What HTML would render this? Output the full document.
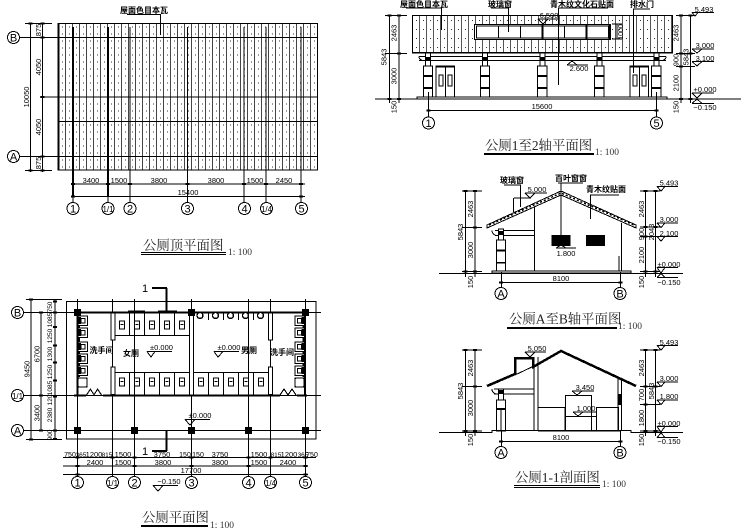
<!DOCTYPE html>
<html><head><meta charset="utf-8"><style>
html,body{margin:0;padding:0;background:#fff}
svg{display:block}
text{font-family:"Liberation Sans","Noto Sans CJK SC",sans-serif;fill:#000}
.d{font-size:7.5px;text-anchor:middle}
.n{font-size:8px;font-weight:bold;text-anchor:middle}
.c{font-size:11px;text-anchor:middle;font-family:"Liberation Sans",sans-serif}
.t{font-family:"Liberation Serif","Noto Serif CJK SC",serif;font-size:13.4px;fill:#222}
.s{font-family:"Liberation Serif",serif;font-size:9.5px;fill:#333}
.l{fill:none;stroke:#000;stroke-width:1}
.h{fill:none;stroke:#000;stroke-width:2}
.tk{fill:none;stroke:#000;stroke-width:2.4}
.f{fill:#000;stroke:none}
circle.o{fill:#fff;stroke:#000;stroke-width:1}
</style></head><body>
<svg width="749" height="530" viewBox="0 0 749 530" xmlns="http://www.w3.org/2000/svg" shape-rendering="crispEdges">
<defs>
<pattern id="p1" x="58" y="23.5" width="7" height="7" patternUnits="userSpaceOnUse">
<rect x="0" y="0" width="7" height="7" fill="#fff"/><rect x="0" y="0" width="1" height="7" fill="#444"/><rect x="4" y="3" width="1" height="1" fill="#333"/>
</pattern>
<pattern id="p2" x="412" y="16" width="7" height="9" patternUnits="userSpaceOnUse">
<rect x="0" y="0" width="7" height="9" fill="#fff"/><rect x="0" y="0" width="1" height="9" fill="#555"/><rect x="4" y="4" width="1" height="1" fill="#333"/>
</pattern>
<g id="stall"><rect x="-2.5" y="-4" width="5" height="8" fill="#fff" stroke="#000" stroke-width="1.4"/><rect x="-1.5" y="-1" width="3" height="1" fill="#000"/></g>
<g id="sink"><rect x="0" y="0" width="9.5" height="9.5" fill="#fff" stroke="#000"/><rect x="3" y="2.5" width="4" height="4.5" fill="#fff" stroke="#000"/><rect x="0" y="1" width="3" height="7" fill="#000"/></g>
<g id="column">
<rect x="-2.5" y="53" width="5" height="13" fill="#fff" stroke="#000"/>
<rect x="-2.5" y="57" width="5" height="4" fill="#000"/>
<rect x="-4.7" y="66" width="9.4" height="31" fill="#fff" stroke="#000"/>
<rect x="-4.7" y="75" width="9.4" height="2" fill="#000"/><rect x="-4.7" y="87" width="9.4" height="2" fill="#000"/>
</g>
<g id="door">
<rect x="0" y="66" width="18.5" height="31.5" fill="#fff" stroke="#000"/>
<rect x="0" y="66" width="18.5" height="1.5" fill="#000"/>
<path class="l" d="M9.5 66V97.5"/>
<rect x="3" y="75" width="4" height="11" fill="#fff" stroke="#000"/>
<rect x="12" y="75" width="4" height="11" fill="#fff" stroke="#000"/>
</g>
</defs>

<!-- ============ ROOF PLAN ============ -->
<rect x="58" y="23.5" width="259.5" height="146.5" fill="url(#p1)" stroke="#000"/>
<rect x="57.5" y="23.5" width="2" height="147" fill="#000"/>
<path class="l" d="M10 37.5H317M40 97H317M58 121.5H317M10 156.5H317"/>
<path class="l" d="M25 23.5H52M25 170.5H52M30.5 23V172M42.5 23V172"/>
<path class="tk" d="M28.5 23.5h4M40.500 23.500h4M40.500 37.500h4M40.500 97h4M40.500 156.500h4M40.500 170.500h4M28.500 170.500h4"/>
<path class="h" d="M73 27V197M108 27V197"/>
<path class="l" d="M130 27V202M187.500 27V202M244 27V202M266 27V202M301 27V202M73 197V202M108 197V202"/>
<path class="l" d="M73 184H305M73 196.500H305"/>
<path class="tk" d="M71 184h4M106 184h4M128 184h4M185.500 184h4M242 184h4M264 184h4M299 184h4M71 196.500h4M299 196.500h4"/>
<text class="d" x="91" y="183">3400</text><text class="d" x="119" y="183">1500</text><text class="d" x="159" y="183">3800</text><text class="d" x="216" y="183">3800</text><text class="d" x="255" y="183">1500</text><text class="d" x="284" y="183">2450</text>
<text class="d" x="188" y="195">15400</text>
<text class="d" transform="translate(41,30) rotate(-90)">875</text>
<text class="d" transform="translate(41,67) rotate(-90)">4050</text>
<text class="d" transform="translate(41,127) rotate(-90)">4050</text>
<text class="d" transform="translate(41,163) rotate(-90)">875</text>
<text class="d" transform="translate(29,97) rotate(-90)">10050</text>
<circle class="o" cx="13.500" cy="37.500" r="6"/><text class="c" x="13.500" y="41.500">B</text>
<circle class="o" cx="13.500" cy="156.500" r="6"/><text class="c" x="13.500" y="160.500">A</text>
<circle class="o" cx="73" cy="208.500" r="6"/><text class="c" x="73" y="212.500">1</text>
<circle class="o" cx="108" cy="208.500" r="6"/><text class="c" x="108" y="212" style="font-size:8px">1/1</text>
<circle class="o" cx="130" cy="208.500" r="6"/><text class="c" x="130" y="212.500">2</text>
<circle class="o" cx="187.500" cy="208.500" r="6"/><text class="c" x="187.500" y="212.500">3</text>
<circle class="o" cx="244.500" cy="208.500" r="6"/><text class="c" x="244.500" y="212.500">4</text>
<circle class="o" cx="266.500" cy="208.500" r="6"/><text class="c" x="266.500" y="212" style="font-size:8px">1/4</text>
<circle class="o" cx="301.500" cy="208.500" r="6"/><text class="c" x="301.500" y="212.500">5</text>
<text class="n" x="144" y="13">屋面色目本瓦</text>
<path class="l" d="M127 14.500H161M160.500 14V35"/>
<text class="t" x="143" y="250">公厕顶平面图</text>
<path class="l" d="M141 252.500H226M141 254.500H226"/>
<text class="s" x="228" y="255">1: 100</text>

<!-- ============ FLOOR PLAN ============ -->
<rect class="l" x="66.500" y="301.500" width="249.500" height="137.500"/>
<path class="l" d="M21 312.500H321M21 395.500H321M21 430.500H321"/>
<path class="l" d="M77.500 299V476M112.500 299V476M134.500 299V476M191.500 299V476M248.500 299V476M270.500 299V476M305.500 299V476"/>
<path class="l" d="M63 457.500H316M63 466H308M63 474.500H308"/>
<path class="l" d="M26 299.500H62M26 439.500H62M31 299V440M41 312V430M55 299V440M41 312.500H62M41 395.500H62"/>
<path class="tk" d="M53 301.500h4M53 312.500h4M53 327h4M53 345.500h4M53 362.500h4M53 380.500h4M53 396.500h4M53 430.500h4M53 439h4M39 312.500h4M39 395.500h4M39 430.500h4M29 299.500h4M29 439.500h4"/>
<path class="tk" d="M75.500 457.500h4M110.500 457.500h4M132.500 457.500h4M189.500 457.500h4M246.500 457.500h4M268.500 457.500h4M303.500 457.500h4M75.500 466h4M132.500 466h4M189.500 466h4M246.500 466h4M303.500 466h4M75.500 474.500h4M303.500 474.500h4"/>

<!-- walls -->
<rect x="76.500" y="311.500" width="229" height="2" fill="#000"/>
<rect x="128" y="310.500" width="17" height="3" fill="#000"/><rect x="158" y="310.500" width="19" height="3" fill="#000"/>
<path class="h" d="M77.500 312V396M305 312V396"/>
<path class="h" d="M74 395.500H86M103 395.500H280M297 395.500H307"/>
<rect x="189.500" y="312" width="4" height="83" fill="#fff" stroke="#000"/>
<rect x="111" y="313" width="4" height="27" fill="#fff" stroke="#000"/>
<rect x="111" y="367" width="4" height="27.500" fill="#fff" stroke="#000"/>
<rect x="268.500" y="313" width="4" height="27" fill="#fff" stroke="#000"/>
<rect x="268.500" y="367" width="4" height="27.500" fill="#fff" stroke="#000"/>
<!-- columns -->
<g class="f"><rect x="74" y="309" width="7" height="7"/><rect x="188" y="309" width="7" height="7"/><rect x="302" y="309" width="7" height="7"/>
<rect x="74" y="427" width="7" height="7"/><rect x="131" y="427" width="7" height="7"/><rect x="188" y="427" width="7" height="7"/><rect x="245" y="427" width="7" height="7"/><rect x="302" y="427" width="7" height="7"/></g>
<!-- female stalls -->
<path class="l" d="M115 335.500H189.500M129.500 313V335.500M144.500 313V335.500M159.500 313V335.500M174.500 313V335.500"/>
<path class="l" d="M115 372.500H189.500M129.500 372.500V395M144.500 372.500V395M159.500 372.500V395M174.500 372.500V395"/>
<use href="#stall" x="122" y="325"/><use href="#stall" x="137" y="325"/><use href="#stall" x="152" y="325"/><use href="#stall" x="167" y="325"/><use href="#stall" x="182" y="325"/>
<use href="#stall" x="122" y="382"/><use href="#stall" x="137" y="382"/><use href="#stall" x="152" y="382"/><use href="#stall" x="167" y="382"/><use href="#stall" x="182" y="382"/>
<!-- male stalls -->
<path class="l" d="M193.500 372.500H268.500M208.500 372.500V395M223.500 372.500V395M238.500 372.500V395M253.500 372.500V395"/>
<use href="#stall" x="201" y="382"/><use href="#stall" x="216" y="382"/><use href="#stall" x="231" y="382"/><use href="#stall" x="246" y="382"/><use href="#stall" x="261" y="382"/>
<path class="l" d="M208.500 313V320M223.500 313V320M238.500 313V320M253.500 313V320"/>
<g fill="#fff" stroke="#000" stroke-width="1.400"><circle cx="200" cy="315.500" r="3"/><circle cx="215.500" cy="315.500" r="3"/><circle cx="230.500" cy="315.500" r="3"/><circle cx="245.500" cy="315.500" r="3"/><circle cx="260.500" cy="315.500" r="3"/></g>
<!-- sinks -->
<rect x="77" y="314" width="3" height="63" fill="#000"/>
<use href="#sink" x="78" y="316"/><use href="#sink" x="78" y="328"/><use href="#sink" x="78" y="342"/><use href="#sink" x="78" y="354"/><use href="#sink" x="78" y="366"/>
<rect x="78" y="378" width="9" height="9" rx="1" fill="#fff" stroke="#000" stroke-width="1.400"/>
<rect x="302.500" y="314" width="3" height="63" fill="#000"/>
<g transform="translate(600,0) scale(-1,1)"><use href="#sink" x="295.500" y="316"/><use href="#sink" x="295.500" y="328"/><use href="#sink" x="295.500" y="342"/><use href="#sink" x="295.500" y="354"/><use href="#sink" x="295.500" y="366"/></g>
<rect x="295" y="378" width="9" height="9" rx="1" fill="#fff" stroke="#000" stroke-width="1.400"/>
<path class="l" d="M86.500 395L90.500 389L94 395L97.500 389L101.500 395"/>
<path class="l" d="M280 395L284 389L288 395L292 389L296 395"/>
<text class="n" x="101.500" y="353">洗手间</text><text class="n" x="131" y="356">女厕</text><text class="n" x="249" y="353">男厕</text><text class="n" x="282" y="355">洗手间</text>
<text class="d" x="161.500" y="350">±0.000</text><path class="l" d="M147 351.500H172M147 351.500L151 357L155 351.500"/>
<text class="d" x="229" y="350">±0.000</text><path class="l" d="M214 351.500H239M214 351.500L218 357L223 351.500"/>
<text class="d" x="200" y="418">±0.000</text><path class="l" d="M185 419.500H210M185 419.500L190 425L195 419.500"/>
<text class="d" x="169" y="484">−0.150</text><path class="l" d="M153 485.500H178M153 485.500L158 491L163 485.500"/>
<!-- section marks -->
<path class="h" d="M152 288H167M166.500 288V312M152 451H167M166.500 430V451"/>
<text x="145" y="292" style="font-size:11px;text-anchor:middle">1</text>
<text x="145" y="455" style="font-size:11px;text-anchor:middle">1</text>
<!-- dim text -->
<g style="font-size:7px">
<text class="d" style="font-size:7px" x="70" y="457">750</text><text class="d" style="font-size:6.500px" x="81" y="457">365</text><text class="d" x="94" y="457">1200</text><text class="d" style="font-size:6.500px" x="107" y="457">815</text><text class="d" x="123" y="457">1500</text><text class="d" x="162" y="457">3750</text><text class="d" style="font-size:7px" x="185" y="457">150</text><text class="d" style="font-size:7px" x="198" y="457">150</text><text class="d" x="220" y="457">3750</text><text class="d" x="259" y="457">1500</text><text class="d" style="font-size:6.500px" x="276" y="457">815</text><text class="d" x="289" y="457">1200</text><text class="d" style="font-size:6.500px" x="303" y="457">365</text><text class="d" style="font-size:7px" x="312" y="457">750</text>
</g>
<text class="d" x="95" y="465">2400</text><text class="d" x="123" y="465">1500</text><text class="d" x="163" y="465">3800</text><text class="d" x="220" y="465">3800</text><text class="d" x="259" y="465">1500</text><text class="d" x="288" y="465">2400</text>
<text class="d" x="191" y="473">17700</text>
<g>
<text class="d" style="font-size:6.500px" transform="translate(52,307) rotate(-90)">750</text>
<text class="d" style="font-size:6.500px" transform="translate(52,320) rotate(-90)">1085</text>
<text class="d" style="font-size:6.500px" transform="translate(52,336) rotate(-90)">1250</text>
<text class="d" style="font-size:6.500px" transform="translate(52,354) rotate(-90)">1300</text>
<text class="d" style="font-size:6.500px" transform="translate(52,372) rotate(-90)">1250</text>
<text class="d" style="font-size:6.500px" transform="translate(52,388) rotate(-90)">1085</text>
<text class="d" style="font-size:6.500px" transform="translate(52,400) rotate(-90)">120</text>
<text class="d" style="font-size:6.500px" transform="translate(52,415) rotate(-90)">2380</text>
<text class="d" style="font-size:6.500px" transform="translate(52,435) rotate(-90)">900</text>
<text class="d" transform="translate(39.500,354) rotate(-90)">6700</text>
<text class="d" transform="translate(39.500,413) rotate(-90)">3400</text>
<text class="d" transform="translate(29.500,369) rotate(-90)">9450</text>
</g>
<circle class="o" cx="17.500" cy="312.500" r="6"/><text class="c" x="17.500" y="316.500">B</text>
<circle class="o" cx="17.500" cy="395.500" r="6"/><text class="c" x="17.500" y="399" style="font-size:8px">1/1</text>
<circle class="o" cx="17.500" cy="430.500" r="6"/><text class="c" x="17.500" y="434.500">A</text>
<circle class="o" cx="77.500" cy="482.500" r="6"/><text class="c" x="77.500" y="486.500">1</text>
<circle class="o" cx="112.500" cy="482.500" r="6"/><text class="c" x="112.500" y="486" style="font-size:8px">1/1</text>
<circle class="o" cx="134.500" cy="482.500" r="6"/><text class="c" x="134.500" y="486.500">2</text>
<circle class="o" cx="191.500" cy="482.500" r="6"/><text class="c" x="191.500" y="486.500">3</text>
<circle class="o" cx="248.500" cy="482.500" r="6"/><text class="c" x="248.500" y="486.500">4</text>
<circle class="o" cx="270.500" cy="482.500" r="6"/><text class="c" x="270.500" y="486" style="font-size:8px">1/4</text>
<circle class="o" cx="305.500" cy="482.500" r="6"/><text class="c" x="305.500" y="486.500">5</text>
<text class="t" x="142" y="522">公厕平面图</text>
<rect x="141" y="525" width="67" height="2" fill="#000"/>
<text class="s" x="210" y="528">1: 100</text>

<!-- ============ ELEVATION ============ -->
<rect x="412.500" y="15.500" width="260" height="37" fill="url(#p2)" stroke="#000"/>
<rect x="412" y="52" width="261" height="1.500" fill="#000"/>
<rect x="474.500" y="24.500" width="136" height="15" fill="#fff" stroke="#000"/>
<rect x="476.500" y="26" width="132" height="12" fill="#fff" stroke="#000"/>
<path class="l" d="M498.500 26V38M520.500 26V38M564.500 26V38"/>
<path class="h" d="M542.500 25V39M586.500 25V39M609.500 25V39"/>
<path class="l" d="M419 56.500H666M419 60.500H666M419 56.500Q419 60 423 60.500M666 56.500Q666 60 662 60.500"/>
<use href="#column" x="428"/><use href="#column" x="485"/><use href="#column" x="542.300"/><use href="#column" x="599.300"/><use href="#column" x="656.300"/>
<use href="#door" x="436"/><use href="#door" x="630"/>
<rect x="417" y="97" width="250" height="2" fill="#fff" stroke="#000"/>
<rect x="375" y="98.500" width="366" height="1" fill="#000"/>
<path class="l" d="M428.500 92V122M656.500 92V122M428.500 110.500H656.500"/>
<path class="tk" d="M426.500 110.500h4M654.500 110.500h4"/>
<path class="l" d="M389.500 15V103M399 15V103M385 15.500H407M385 53.500H407M385 99H407"/>
<path class="tk" d="M387.500 15.500h4M397 15.500h4M397 53.500h4M387.500 99h4M397 99h4"/>
<path class="l" d="M681 15V103M690.500 15V103M676 15.500H695M676 53.500H695M676 66.500H695"/>
<path class="tk" d="M679 15.500h4M688.500 15.500h4M679 53.500h4M688.500 53.500h4M679 66.500h4M679 99h4M688.500 99h4"/>
<g>
<text class="d" transform="translate(396.500,33) rotate(-90)">2463</text>
<text class="d" transform="translate(396.500,76) rotate(-90)">3000</text>
<text class="d" transform="translate(386.500,57) rotate(-90)">5843</text>
<text class="d" transform="translate(396.500,107) rotate(-90)">150</text>
<text class="d" transform="translate(678.500,33) rotate(-90)">2463</text>
<text class="d" transform="translate(678.500,60) rotate(-90)">900</text>
<text class="d" transform="translate(688.500,57) rotate(-90)">5843</text>
<text class="d" transform="translate(678.500,83) rotate(-90)">2100</text>
<text class="d" transform="translate(678.500,107) rotate(-90)">150</text>
</g>
<text class="d" x="542" y="109">15600</text>
<circle class="o" cx="428.500" cy="123" r="6"/><text class="c" x="428.500" y="127">1</text>
<circle class="o" cx="656.500" cy="123" r="6"/><text class="c" x="656.500" y="127">5</text>
<text class="n" x="424" y="7">屋面色目本瓦</text><path class="l" d="M406 8H442M441.500 8V30"/>
<text class="n" x="500" y="7">玻璃窗</text><path class="l" d="M491 8H509M508.500 8V32"/>
<text class="n" x="582" y="7">青木纹文化石贴面</text><path class="l" d="M558 8H608M558.500 8V85"/>
<text class="n" x="642" y="7">排水门</text><path class="l" d="M633 9H650M633.500 9V73"/>
<text class="d" x="549" y="18">6.500</text><path class="l" d="M538 19H558M538 19L543 24L548 19"/>
<text class="d" x="579" y="71">2.600</text><path class="l" d="M567 65H588M567 65L572 61L577 65"/>
<text class="d" transform="translate(623,32) rotate(-90)" style="font-size:7px">1000</text>
<path class="l" d="M617 24V39M612 24H622M612 39H622"/>
<text class="d" x="704" y="12">5.493</text><path class="l" d="M692 12.500H714M692 12.500L695 16L698 12.500"/>
<text class="d" x="705" y="48">3.000</text><path class="l" d="M692 49H714M692 49L697 53L702 49"/>
<text class="d" x="705" y="61">3.100</text><path class="l" d="M692 61.500H714M692 61.500L697 66L702 61.500"/>
<text class="d" x="705" y="92">+0.000</text><path class="l" d="M692 93H714M692 93L697 98L702 93"/>
<text class="d" x="705" y="110">−0.150</text><path class="l" d="M692 103.500H714M692 103.500L697 99L702 103.500"/>
<text class="t" x="485" y="150">公厕1至2轴平面图</text>
<rect x="484" y="153" width="110" height="2" fill="#000"/>
<text class="s" x="595" y="155">1: 100</text>

<!-- ============ A-B ELEVATION ============ -->
<path d="M487 225L561 191L636 225L636 228L561 195L487 228Z" fill="#fff" stroke="#000"/>
<path d="M489 225L561 193L634 225" fill="none" stroke="#000" stroke-width="1.500" stroke-dasharray="2 2"/>
<path class="l" d="M534.500 207V271M621.500 223V271M495 230.500H534M495 235.500H534M492 230.500Q492 234 496 235.500"/>
<path class="l" d="M619 256V272"/>
<rect x="551.500" y="235" width="19" height="11" fill="#000"/><rect x="586" y="235" width="19" height="11" fill="#000"/>
<rect x="496.500" y="240" width="9" height="32" fill="#fff" stroke="#000"/>
<rect x="496.500" y="249.500" width="9" height="2" fill="#000"/><rect x="496.500" y="262" width="9" height="1.500" fill="#000"/>
<rect x="498.500" y="229" width="5" height="11" fill="#fff" stroke="#000"/><rect x="499" y="231" width="4" height="4" fill="#000"/>
<rect x="492" y="271" width="139" height="2" fill="#fff" stroke="#000"/>
<path class="l" d="M439 273.500H683"/>
<path class="l" d="M501.500 272V287M620.500 272V287M501 282.500H620"/>
<path class="tk" d="M499 282.500h4M618.500 282.500h4"/>
<circle class="o" cx="501" cy="293.500" r="6"/><text class="c" x="501" y="297.500">A</text>
<circle class="o" cx="620" cy="293.500" r="6"/><text class="c" x="620" y="297.500">B</text>
<text class="d" x="561" y="281">8100</text>
<text class="n" x="512" y="183">玻璃窗</text><path class="l" d="M504 185H521M520.500 185V207M514 198H531M513.500 198V212"/>
<text class="n" x="571" y="181">百叶窗窗</text><path class="l" d="M558 183H583M561 183V236"/>
<text class="n" x="606" y="192">青木纹贴面</text><path class="l" d="M590 195H619M590.500 195V219"/>
<text class="d" x="537" y="192">5.000</text><path class="l" d="M525 193H547M525 193L530 198L535 193"/>
<text class="d" x="566" y="256">1.800</text><path class="l" d="M556 248H576M556 248L561 245L566 248"/>
<path class="l" d="M462 191H482M462 227.500H482M462 271.500H482M465.500 191V277M475 191V277"/>
<path class="l" d="M640 191H660M640 227H660M640 236.500H660M640 271.500H660M645.500 191V277M655.500 191V277"/>
<path class="tk" d="M463.500 191h4M473 191h4M473 227.500h4M463.500 271.500h4M473 271.500h4M643.500 191h4M653.500 191h4M643.500 227h4M653.500 227h4M643.500 236.500h4M643.500 271.500h4M653.500 271.500h4"/>
<g>
<text class="d" transform="translate(473,209) rotate(-90)">2463</text>
<text class="d" transform="translate(473,250) rotate(-90)">3000</text>
<text class="d" transform="translate(463,232) rotate(-90)">5843</text>
<text class="d" transform="translate(473,282) rotate(-90)">150</text>
<text class="d" transform="translate(644,209) rotate(-90)">2463</text>
<text class="d" transform="translate(644,234) rotate(-90)">900</text>
<text class="d" transform="translate(654,232) rotate(-90)">2043</text>
<text class="d" transform="translate(644,255) rotate(-90)">2100</text>
<text class="d" transform="translate(644,282) rotate(-90)">150</text>
</g>
<text class="d" x="669" y="185.500">5.493</text><path class="l" d="M657 186.500H678M657 186.500L661 191L665 186.500"/>
<text class="d" x="669" y="222">3.000</text><path class="l" d="M657 223H678M657 223L661 227.500L665 223"/>
<text class="d" x="669" y="236">2.100</text><path class="l" d="M657 236.500H678M657 236.500L661 241L665 236.500"/>
<text class="d" x="669" y="267">±0.000</text><path class="l" d="M657 267.500H678M657 267.500L661 273L665 267.500"/>
<text class="d" x="669" y="285">−0.150</text><path class="l" d="M657 277.500H678M657 277.500L661 273.500L665 277.500"/>
<text class="t" x="509" y="323.500">公厕A至B轴平面图</text>
<rect x="507" y="327" width="110" height="2" fill="#000"/>
<text class="s" x="618" y="329">1: 100</text>

<!-- ============ SECTION ============ -->
<path d="M487 386L515 374L515 358L533 358L533 367L561 351L636 386" fill="none" stroke="#000" stroke-width="2.500"/>
<path class="l" d="M515 375L534 366M534 357V430M538 357V430M494 389H534M494 394H534M492 389Q492 393 496 394"/>
<path class="l" d="M618 379V430M621.500 379V430"/>
<rect x="618" y="394" width="3.500" height="11" fill="#000"/>
<rect class="l" x="538" y="407.500" width="27" height="23"/>
<rect class="l" x="565.500" y="395.500" width="26" height="35"/>
<path class="l" d="M565.500 416.500H596"/>
<rect class="l" x="596.500" y="407.500" width="22" height="23"/>
<rect x="496.500" y="400" width="9" height="31" fill="#fff" stroke="#000"/>
<rect x="496.500" y="408" width="9" height="2" fill="#000"/>
<path class="l" d="M501 410V431"/>
<rect x="498.500" y="389" width="5" height="11" fill="#fff" stroke="#000"/><rect x="499" y="390" width="4" height="4" fill="#000"/>
<path class="l" d="M439 432.500H492V430.500H631V432.500H683"/>
<rect x="538" y="430" width="83" height="1.500" fill="#000"/>
<path class="l" d="M501.500 431V447M620.500 431V447M501 441.500H620"/>
<path class="tk" d="M499 441.500h4M618.500 441.500h4"/>
<circle class="o" cx="501" cy="452.500" r="6"/><text class="c" x="501" y="456.500">A</text>
<circle class="o" cx="620" cy="452.500" r="6"/><text class="c" x="620" y="456.500">B</text>
<text class="d" x="561" y="440">8100</text>
<text class="d" x="537" y="351">5.050</text><path class="l" d="M525 352H546M525 352L530 357L535 352"/>
<text class="d" x="585" y="390">3.450</text><path class="l" d="M572 391H594M572 391L577 395L582 391"/>
<text class="d" x="586" y="411">1.000</text><path class="l" d="M573 412H596M573 412L578 416L583 412"/>
<path class="l" d="M462 350H482M462 386.500H482M462 431H482M465.500 350V436M475 350V436"/>
<path class="l" d="M640 350H660M640 386.500H660M640 404.500H660M640 431H660M645.500 350V436M655.500 350V436"/>
<path class="tk" d="M463.500 350h4M473 350h4M473 386.500h4M463.500 431h4M473 431h4M643.500 350h4M653.500 350h4M643.500 386.500h4M653.500 386.500h4M643.500 404.500h4M643.500 431h4M653.500 431h4"/>
<g>
<text class="d" transform="translate(473,368) rotate(-90)">2463</text>
<text class="d" transform="translate(473,408) rotate(-90)">3000</text>
<text class="d" transform="translate(463,391) rotate(-90)">5843</text>
<text class="d" transform="translate(473,440) rotate(-90)">150</text>
<text class="d" transform="translate(644,368) rotate(-90)">2463</text>
<text class="d" transform="translate(644,395) rotate(-90)">700</text>
<text class="d" transform="translate(654,391) rotate(-90)">5843</text>
<text class="d" transform="translate(644,418) rotate(-90)">1800</text>
<text class="d" transform="translate(644,440) rotate(-90)">150</text>
</g>
<text class="d" x="669" y="345">5.493</text><path class="l" d="M657 345.500H678M657 345.500L661 350L665 345.500"/>
<text class="d" x="669" y="381">3.000</text><path class="l" d="M657 382H678M657 382L661 386.500L665 382"/>
<text class="d" x="669" y="399">1.800</text><path class="l" d="M657 400H678M657 400L661 404.500L665 400"/>
<text class="d" x="669" y="426">±0.000</text><path class="l" d="M657 426.500H678M657 426.500L661 432L665 426.500"/>
<text class="d" x="669" y="444">−0.150</text><path class="l" d="M657 437.500H678M657 437.500L661 433L665 437.500"/>
<text class="t" x="515" y="482">公厕1-1剖面图</text>
<path class="l" d="M514 485.500H600M514 487.500H600"/>
<text class="s" x="602" y="487">1: 100</text>
</svg>
</body></html>
